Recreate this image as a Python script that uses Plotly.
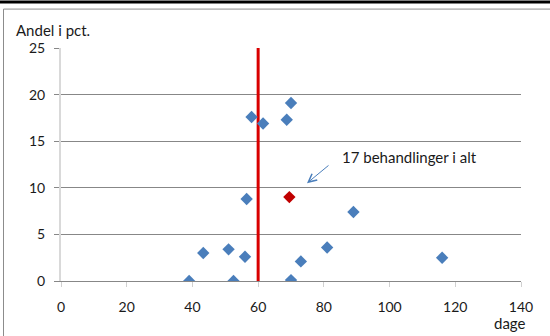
import plotly.graph_objects as go

# data
days = [39, 43.3, 51, 52.5, 56, 56.5, 58, 61.5, 68.7, 70, 70, 73, 81, 89, 116]
share = [0, 3.0, 3.4, 0, 2.6, 8.8, 17.6, 16.9, 17.3, 19.1, 0.1, 2.1, 3.6, 7.4, 2.5]
mean_days = [69.5]
mean_share = [9.0]
limit_x = [60, 60]
limit_y = [0, 25]
x_ticks = [0, 20, 40, 60, 80, 100, 120, 140]
y_ticks = [0, 5, 10, 15, 20, 25]

FONT = "Lato"
BLUE = "#4a7ebb"

fig = go.Figure()
fig.add_trace(go.Scatter(x=limit_x, y=limit_y, mode="lines",
                         line=dict(color="#d90000", width=3), hoverinfo="skip"))
fig.add_trace(go.Scatter(x=days, y=share, mode="markers",
                         marker=dict(symbol="diamond", size=9.5, color=BLUE,
                                     line=dict(width=0))))
fig.add_trace(go.Scatter(x=mean_days, y=mean_share, mode="markers",
                         marker=dict(symbol="diamond", size=9.5, color="#c00000",
                                     line=dict(width=0))))

L, R, T, B = 61, 29, 47.5, 55
W, H = 550, 336
pw, ph = W - L - R, H - T - B

def px(x):
    return (x - L) / pw

def py(y):
    return (H - B - y) / ph

fig.update_layout(
    width=W, height=H,
    margin=dict(l=L, r=R, t=T, b=B),
    paper_bgcolor="white", plot_bgcolor="white",
    showlegend=False,
    font=dict(family=FONT, size=13, color="#1a1a1a"),
    xaxis=dict(range=[0, 140], tickvals=x_ticks, showgrid=False,
               showline=True, linecolor="#878787", linewidth=1,
               ticks="outside", ticklen=5, tickcolor="#d0d0d0",
               ticklabelstandoff=8, zeroline=False,
               tickfont=dict(family=FONT, size=14, color="#1a1a1a")),
    yaxis=dict(range=[0, 25], tickvals=y_ticks, showgrid=True,
               gridcolor="#878787", gridwidth=1,
               showline=True, linecolor="#d9d9d9", linewidth=2,
               ticks="outside", ticklen=5, tickcolor="#878787",
               ticklabelstandoff=6, zeroline=False,
               tickfont=dict(family=FONT, size=14, color="#1a1a1a")),
    annotations=[
        dict(text="Andel i pct.", xref="paper", yref="paper",
             x=px(14), y=py(29), xanchor="left", yanchor="middle",
             showarrow=False, font=dict(family=FONT, size=15, color="#1a1a1a")),
        dict(text="dage", xref="paper", yref="paper",
             x=px(510), y=py(323), xanchor="center", yanchor="middle",
             showarrow=False, font=dict(family=FONT, size=15, color="#1a1a1a")),
        dict(text="17 behandlinger i alt", xref="paper", yref="paper",
             x=px(340), y=py(157), xanchor="left", yanchor="middle",
             showarrow=False, font=dict(family=FONT, size=15, color="#1a1a1a")),
        dict(text="", xref="paper", yref="paper", x=px(307), y=py(183),
             ax=23, ay=-19, showarrow=True, arrowhead=5, arrowsize=1.6,
             arrowwidth=1, arrowcolor=BLUE),
    ],
    shapes=[
        dict(type="line", xref="paper", yref="paper",
             x0=px(0), x1=px(W), y0=py(1.5), y1=py(1.5),
             line=dict(color="black", width=3)),
        dict(type="line", xref="paper", yref="paper",
             x0=px(3.5), x1=px(W + 5), y0=py(8.5), y1=py(8.5),
             line=dict(color="#8c8c8c", width=1)),
        dict(type="line", xref="paper", yref="paper",
             x0=px(3.5), x1=px(3.5), y0=py(8.5), y1=py(H + 5),
             line=dict(color="#8c8c8c", width=1)),
    ],
)

fig.write_html("out.html")
